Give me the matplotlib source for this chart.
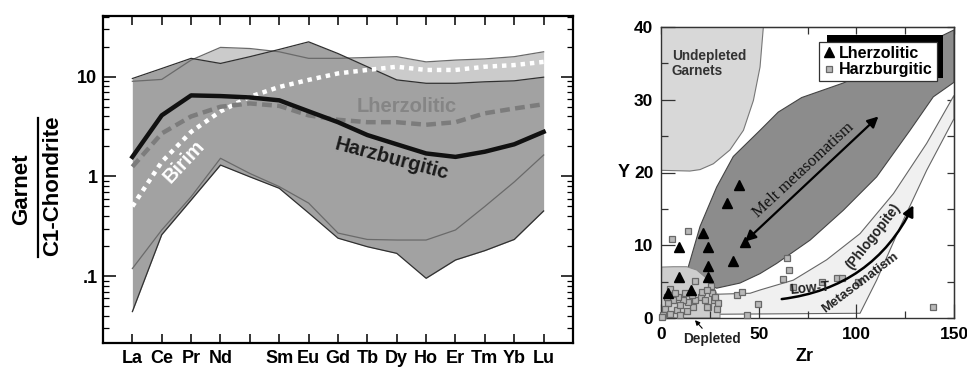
import matplotlib
matplotlib.use("Agg")
import matplotlib.pyplot as plt
from matplotlib.patches import Rectangle
from matplotlib.lines import Line2D
from matplotlib.ticker import NullFormatter
import numpy as np

plt.rcParams['font.family'] = ['Liberation Sans', 'DejaVu Sans']
plt.rcParams['font.weight'] = 'bold'

# --- REE patterns, chondrite normalised (Pm left blank) ---
ree = ['La', 'Ce', 'Pr', 'Nd', '', 'Sm', 'Eu', 'Gd', 'Tb', 'Dy', 'Ho', 'Er', 'Tm', 'Yb', 'Lu']
field_a_top = [9.6, 12.1, 15.3, 13.6, 15.9, 18.8, 22.4, 17.1, 12.6, 9.3, 8.6, 8.6, 8.9, 9.1, 9.9]
field_a_bot = [0.044, 0.26, 0.58, 1.30, 0.99, 0.76, 0.43, 0.24, 0.197, 0.169, 0.095, 0.145, 0.18, 0.233, 0.45]
field_b_top = [9.0, 9.4, 14.7, 19.7, 19.2, 17.8, 15.3, 15.3, 15.6, 15.9, 14.1, 14.7, 15.1, 15.9, 17.8]
field_b_bot = [0.119, 0.29, 0.625, 1.52, 1.07, 0.79, 0.54, 0.27, 0.233, 0.23, 0.23, 0.29, 0.50, 0.88, 1.64]
harz_ree = [1.57, 4.1, 6.5, 6.4, 6.2, 5.8, 4.5, 3.5, 2.6, 2.1, 1.70, 1.57, 1.77, 2.1, 2.8]
lherz_ree = [1.25, 2.7, 4.0, 5.0, 5.4, 5.1, 4.1, 3.7, 3.5, 3.5, 3.3, 3.5, 4.3, 4.8, 5.3]
birim_ree = [0.50, 1.40, 2.8, 4.5, 6.3, 7.9, 9.3, 10.8, 11.7, 12.6, 11.7, 11.7, 12.6, 13.1, 14.1]

# --- Zr vs Y ---
lherz_zr = [3.4, 9.2, 9.2, 15.2, 21.3, 23.9, 23.9, 23.9, 33.6, 39.9, 37.0, 43.0]
lherz_y = [3.4, 9.8, 5.7, 3.9, 11.7, 9.8, 7.1, 5.7, 15.8, 18.3, 7.8, 10.5]
harz_zr = [5.5, 13.7, 17.4, 4.6, 25.4, 26.0, 20.5, 22.5, 27.0, 29.4, 28.5, 24.2, 16.6, 14.0,
           11.4, 8.9, 6.3, 3.8, 2.0, 1.2, 4.6, 8.0, 9.7, 13.1, 9.7, 17.4, 15.7, 20.8, 23.4,
           7.2, 0.3, 2.9, 12.3, 27.8, 23.4, 38.7, 41.6, 43.8, 49.8, 64.3, 65.5, 62.3, 67.8,
           82.3, 90.3, 92.5, 101.0, 139.4]
harz_y = [10.8, 12.0, 5.1, 4.0, 4.4, 3.4, 2.9, 2.5, 2.5, 2.0, 1.3, 1.45, 1.55, 2.2,
          2.5, 2.9, 2.5, 2.0, 1.3, 0.4, 0.6, 1.1, 0.4, 0.9, 1.8, 2.5, 3.2, 3.6, 3.8,
          3.4, 0.2, 2.9, 3.4, 2.9, 1.55, 3.2, 3.6, 0.4, 1.9, 8.2, 6.6, 5.3, 4.2,
          5.0, 5.45, 5.45, 5.0, 1.5]

# field outlines
undep_zr = [0, 52.4, 50.7, 47.3, 42.2, 35.3, 26.8, 20.0, 14.8, 0]
undep_y = [40, 40, 34.5, 29.9, 25.8, 23.1, 21.2, 20.4, 20.2, 20.3]
melt_zr = [14, 20, 28.5, 40.4, 50.7, 59.2, 76.3, 93.3, 110.4, 127.5, 139.4, 150,
           150, 121, 93.3, 72, 60, 50.7, 37, 28.5, 20, 14]
melt_y = [7.05, 5.0, 4.1, 4.8, 6.1, 7.5, 10.7, 14.8, 19.4, 25.8, 30.4, 32.4,
          39.6, 35.8, 32.3, 30.3, 28.3, 25.8, 22.2, 18, 12.6, 7.05]
lowt_zr = [20, 45.6, 50.7, 67.7, 84.8, 101.9, 119, 136, 150, 150, 136, 122.4, 110.4, 101.9, 20]
lowt_y = [3.2, 3.4, 3.85, 5.2, 8.0, 11.6, 17.1, 24.0, 30.6, 27.4, 20.3, 12.5, 5.2, 0.65, 0.5]
depl_zr = [0, 0.3, 6.3, 13.2, 18.3, 23.4, 26.8, 29.3, 30.2, 30.2, 0]
depl_y = [0, 7.0, 7.05, 7.05, 6.6, 5.45, 4.3, 2.9, 1.55, 0, 0]

fig = plt.figure(figsize=(9.67, 3.68), dpi=100)

# ---------------- left: spidergram ----------------
ax = fig.add_axes([0.10651, 0.06793, 0.48604, 0.88859])
x = np.arange(len(ree))
ax.fill_between(x, field_b_bot, field_b_top, color='#cbcbcb', lw=0, zorder=1)
ax.fill_between(x, field_a_bot, field_a_top, color='#a2a2a2', lw=0, zorder=1.5)
for arr, c in [(field_b_top, '#6a6a6a'), (field_b_bot, '#6a6a6a'),
               (field_a_top, '#303030'), (field_a_bot, '#303030')]:
    ax.plot(x, arr, color=c, lw=0.9, zorder=2)
ax.plot(x, birim_ree, color='white', lw=3.2, ls=(0, (1, 1.1)), zorder=3)
ax.plot(x, lherz_ree, color='#7c7c7c', lw=3.2, ls=(0, (2.2, 1.2)), zorder=3)
ax.plot(x, harz_ree, color='#111111', lw=3.2, zorder=3.5)

ax.text(9.34, 5.0, 'Lherzolitic', color='#858585', fontsize=14.5, ha='center', va='center')
ax.text(8.83, 1.48, 'Harzburgitic', color='#1a1a1a', fontsize=14.5, ha='center', va='center',
        rotation=-15, rotation_mode='anchor')
ax.text(1.76, 1.40, 'Birim', color='white', fontsize=14.5, ha='center', va='center',
        rotation=47, rotation_mode='anchor')

ax.set_yscale('log')
ax.set_xlim(-1, 15)
ax.set_ylim(0.0213, 40.7)
ax.set_xticks(x)
ax.set_xticklabels(ree, fontsize=13)
ax.set_yticks([0.1, 1, 10])
ax.set_yticklabels(['.1', '1', '10'], fontsize=13)
ax.yaxis.set_minor_formatter(NullFormatter())
ax.tick_params(axis='x', which='major', direction='in', length=6.5, width=1.1,
               top=True, pad=5)
ax.tick_params(axis='y', which='major', direction='in', length=9, width=1.1,
               right=True, pad=4)
ax.tick_params(axis='y', which='minor', direction='in', length=4.5, width=0.9, right=True)
for s in ax.spines.values():
    s.set_linewidth(1.6)

# fraction-style y label
fig.text(22 / 967, 1 - 189 / 368, 'Garnet', rotation=90, ha='center', va='center', fontsize=16)
fig.text(52.5 / 967, 1 - 186 / 368, 'C1-Chondrite', rotation=90, ha='center', va='center',
         fontsize=16)
fig.add_artist(Line2D([37.7 / 967, 37.7 / 967], [1 - 118 / 368, 1 - 257 / 368],
                      transform=fig.transFigure, color='black', lw=1.6))

# ---------------- right: Zr vs Y ----------------
ax2 = fig.add_axes([0.68356, 0.13587, 0.30300, 0.79076])
ax2.fill(undep_zr, undep_y, facecolor='#d8d8d8', edgecolor='#777777', lw=0.8, zorder=1)
ax2.fill(lowt_zr, lowt_y, facecolor='#f0f0f0', edgecolor='#666666', lw=0.8, zorder=1)
ax2.fill(melt_zr, melt_y, facecolor='#8c8c8c', edgecolor='#444444', lw=0.8, zorder=1.2)
ax2.fill(depl_zr, depl_y, facecolor='#cdcdcd', edgecolor='#888888', lw=0.8, zorder=1.4)

ax2.plot(harz_zr, harz_y, 's', ms=4.5, mfc='#b8b8b8', mec='#686868', mew=0.9, zorder=3,
         clip_on=False)
ax2.plot(lherz_zr, lherz_y, '^', ms=7.5, color='black', zorder=4)

ax2.annotate('', xy=(111.3, 27.7), xytext=(43.0, 10.5),
             arrowprops=dict(arrowstyle='<|-|>', lw=1.6, color='black', mutation_scale=16,
                             shrinkA=0, shrinkB=0), zorder=5)
ax2.annotate('', xy=(129.2, 15.5), xytext=(61.8, 2.6),
             arrowprops=dict(arrowstyle='-|>', lw=1.8, color='black', mutation_scale=16,
                             connectionstyle='arc3,rad=0.27', shrinkA=0, shrinkB=0), zorder=5)

ax2.text(72.9, 20.3, 'Melt metasomatism', family='Liberation Serif', weight='normal',
         fontsize=12, color='#111111', rotation=43, rotation_mode='anchor',
         ha='center', va='center', zorder=6)
ax2.text(76.3, 4.1, 'Low-T', fontsize=9.8, color='#222222', rotation=5,
         rotation_mode='anchor', ha='center', va='center', zorder=6)
ax2.text(108.6, 11.2, '(Phlogopite)', fontsize=9.8, color='#222222', rotation=52,
         rotation_mode='anchor', ha='center', va='center', zorder=6)
ax2.text(102.2, 4.8, 'Metasomatism', fontsize=9.6, color='#222222', rotation=37,
         rotation_mode='anchor', ha='center', va='center', zorder=6)
ax2.text(5.5, 35.0, 'Undepleted\nGarnets', fontsize=9.8, color='#333333', ha='left',
         va='center', linespacing=1.05, zorder=6)
ax2.annotate('Depleted', xy=(17.4, -0.3), xytext=(26.0, -2.9), fontsize=9.8, color='#222222',
             ha='center', va='center', annotation_clip=False,
             arrowprops=dict(arrowstyle='-|>', lw=0.8, color='black', mutation_scale=7,
                             shrinkA=1, shrinkB=0))

# legend with an offset black shadow
handles = [Line2D([], [], ls='none', marker='^', ms=7, color='black'),
           Line2D([], [], ls='none', marker='s', ms=4.5, mfc='#b8b8b8', mec='#686868', mew=0.9)]
ax2.add_patch(Rectangle((0.5655, 0.824), 0.398, 0.1485, transform=ax2.transAxes,
                        facecolor='black', edgecolor='none', zorder=8))
leg = ax2.legend(handles, ['Lherzolitic', 'Harzburgitic'], loc='upper right',
                 bbox_to_anchor=(0.941, 0.9495), borderaxespad=0, fancybox=False,
                 framealpha=1, edgecolor='#333333', handlelength=0.7, handletextpad=0.3,
                 borderpad=0.25, labelspacing=0.1, prop=dict(weight='bold', size=11.5))
leg.set_zorder(9)
leg.get_frame().set_linewidth(0.9)

ax2.set_xlim(0, 150)
ax2.set_ylim(0, 40)
ax2.set_xticks([0, 50, 100, 150])
ax2.set_xticks([25, 75, 125], minor=True)
ax2.set_yticks([0, 10, 20, 30, 40])
ax2.set_yticks([5, 15, 25, 35], minor=True)
ax2.tick_params(which='major', direction='in', length=10, width=0.9, color='#333333',
                labelsize=12.5)
ax2.tick_params(which='minor', direction='in', length=5, width=0.9, color='#333333')
ax2.tick_params(axis='x', pad=6.5)
ax2.tick_params(axis='y', pad=5.5)
for s in ax2.spines.values():
    s.set_linewidth(1.0)
    s.set_color('#333333')

top = ax2.secondary_xaxis('top')
top.set_xticks(np.arange(0, 151, 25))
top.set_xticklabels([])
top.tick_params(direction='in', length=5, width=0.9, color='#333333')
right = ax2.secondary_yaxis('right')
right.set_yticks(np.arange(0, 41, 5))
right.set_yticklabels([])
right.tick_params(direction='in', length=5, width=0.9, color='#333333')

fig.text(624 / 967, 1 - 172 / 368, 'Y', ha='center', va='center', fontsize=13)
fig.text(805 / 967, 1 - 356.7 / 368, 'Zr', ha='center', va='center', fontsize=13)

fig.savefig('out.png', dpi=100)
